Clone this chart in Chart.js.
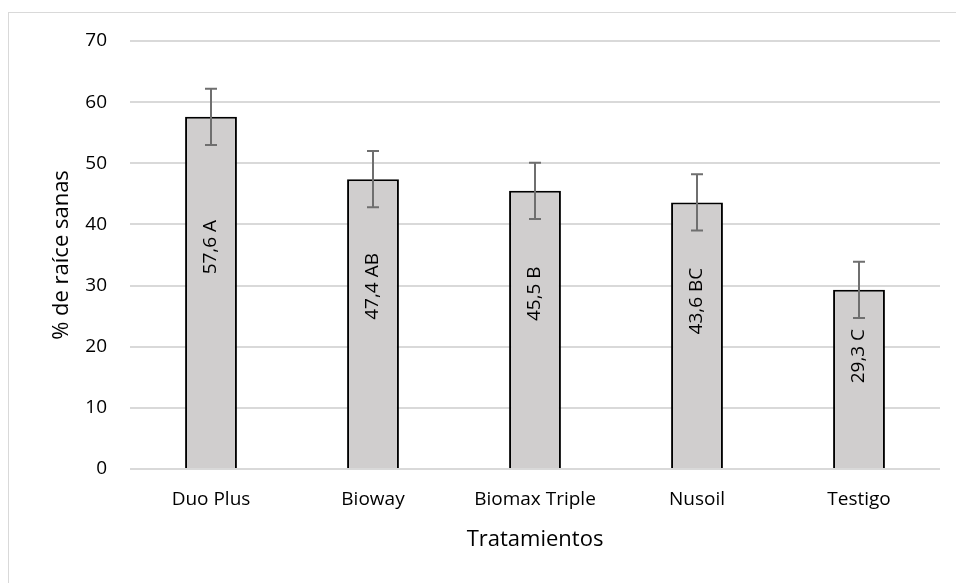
<!DOCTYPE html>
<html>
<head>
<meta charset="utf-8">
<script src="https://cdn.jsdelivr.net/npm/chart.js@4"></script>
<style>
  html, body { margin: 0; padding: 0; background: #fff; }
  #wrap { position: relative; width: 956px; height: 583px; overflow: hidden; }
  #frame { position: absolute; left: 8px; top: 12px; width: 1000px; height: 700px; border: 1px solid #d9d9d9; }
  canvas { position: absolute; left: 0; top: 0; }
</style>
</head>
<body>
<div id="wrap">
  <div id="frame"></div>
  <canvas id="rootsChart" width="956" height="583"></canvas>
</div>
<script>
const categories = ["Duo Plus", "Bioway", "Biomax Triple", "Nusoil", "Testigo"];
const healthyRoots = [57.6, 47.4, 45.5, 43.6, 29.3];
const stdError = [4.6, 4.6, 4.6, 4.6, 4.6];
const groups = ["A", "AB", "B", "BC", "C"];
const yTicks = [0, 10, 20, 30, 40, 50, 60, 70];

const fontFamily = "'Open Sans', sans-serif";

// error bars + rotated value labels
const extras = {
  id: "extras",
  afterDatasetsDraw(chart) {
    const ctx = chart.ctx;
    const y = chart.scales.y;
    const meta = chart.getDatasetMeta(0);
    meta.data.forEach(function (bar, i) {
      const x = bar.x;
      const top = y.getPixelForValue(healthyRoots[i] + stdError[i]);
      const bottom = y.getPixelForValue(healthyRoots[i] - stdError[i]);
      ctx.save();
      ctx.strokeStyle = "#6f6f6f";
      ctx.lineWidth = 2;
      ctx.beginPath();
      ctx.moveTo(x, top); ctx.lineTo(x, bottom);
      ctx.moveTo(x - 6, top); ctx.lineTo(x + 6, top);
      ctx.moveTo(x - 6, bottom); ctx.lineTo(x + 6, bottom);
      ctx.stroke();

      const labelY = y.getPixelForValue(healthyRoots[i] * 0.63);
      ctx.translate(x, labelY);
      ctx.rotate(-Math.PI / 2);
      ctx.fillStyle = "#000";
      ctx.font = "19px " + fontFamily;
      ctx.textAlign = "center";
      ctx.textBaseline = "middle";
      ctx.fillText(healthyRoots[i].toFixed(1).replace(".", ",") + " " + groups[i], 0, 0);
      ctx.restore();
    });
  }
};

document.addEventListener("DOMContentLoaded", function () {
  const ctx = document.getElementById("rootsChart").getContext("2d");
  new Chart(ctx, {
    type: "bar",
    data: {
      labels: categories,
      datasets: [
        {
          data: healthyRoots,
          backgroundColor: "#d0cece",
          borderColor: "#000000",
          borderWidth: 2,
          borderSkipped: "bottom",
          barPercentage: 0.32,
          categoryPercentage: 1.0,
        },
      ],
    },
    options: {
      responsive: false,
      animation: false,
      layout: { padding: { left: 40, right: 16, top: 41, bottom: 0 } },
      plugins: {
        legend: { display: false },
        tooltip: { enabled: false },
      },
      scales: {
        x: {
          afterFit: function (axis) { axis.height = 114; },
          grid: { display: false, drawTicks: false },
          border: { display: false },
          ticks: { color: "#000", font: { family: fontFamily, size: 19 }, padding: 19 },
          title: {
            display: true,
            text: "Tratamientos",
            color: "#000",
            font: { family: fontFamily, size: 22 },
            padding: { top: 4, bottom: 30 },
          },
        },
        y: {
          min: 0,
          max: 70,
          afterBuildTicks: function (axis) {
            axis.ticks = yTicks.map(function (v) { return { value: v }; });
          },
          afterFit: function (axis) { axis.width = 90; },
          grid: { color: "#d9d9d9", lineWidth: 2, drawTicks: false },
          border: { display: false },
          ticks: { color: "#000", font: { family: fontFamily, size: 19 }, padding: 23 },
          title: {
            display: true,
            text: "% de raíce sanas",
            color: "#000",
            font: { family: fontFamily, size: 22 },
            padding: { top: 9, bottom: 4 },
          },
        },
      },
    },
    plugins: [extras],
  });
});
</script>
</body>
</html>
